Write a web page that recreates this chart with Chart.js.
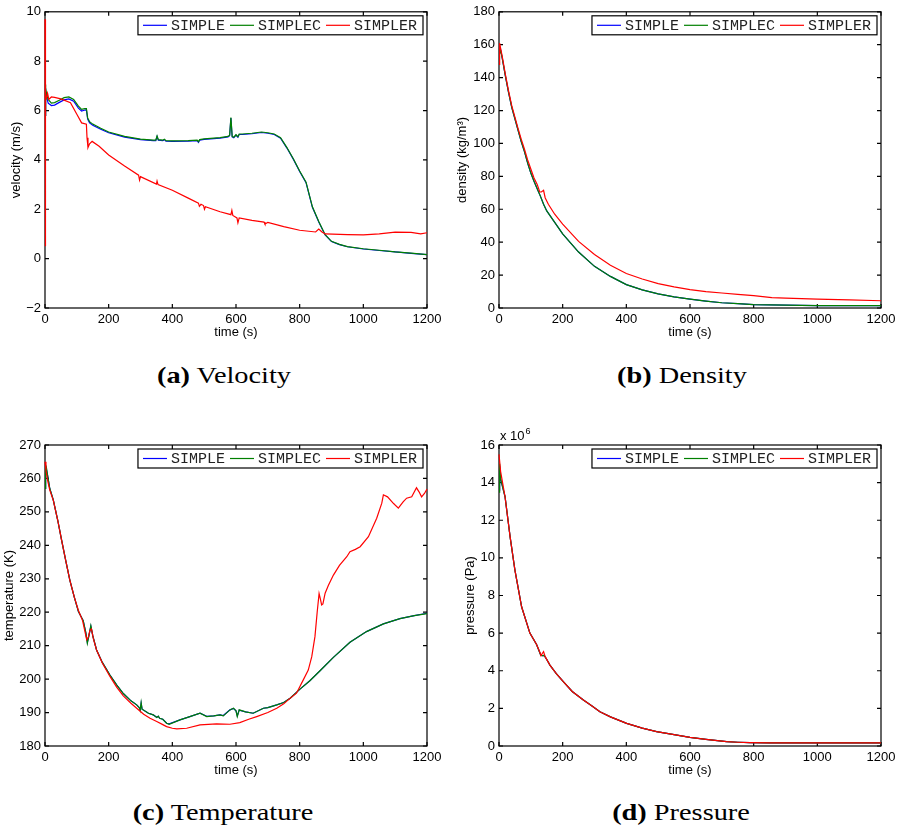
<!DOCTYPE html>
<html>
<head>
<meta charset="utf-8">
<script src="https://cdn.jsdelivr.net/npm/chart.js@4.4.0/dist/chart.umd.min.js"></script>
<style>
  body { margin: 0; background: #fff; }
  #page { position: relative; width: 899px; height: 830px; overflow: hidden; }
  canvas { position: absolute; }
  .cap { position: absolute; width: 400px; text-align: center; font-family: "Liberation Serif", serif; font-size: 24px; line-height: 26px; color: #000; transform: scaleX(1.18); }
  .cap b { font-weight: bold; }
</style>
</head>
<body>
<div id="page">
  <canvas id="cVel" width="450" height="340" style="left:0;top:0"></canvas>
  <canvas id="cDen" width="450" height="340" style="left:450px;top:0"></canvas>
  <canvas id="cTmp" width="450" height="353" style="left:0;top:425px"></canvas>
  <canvas id="cPrs" width="450" height="353" style="left:450px;top:425px"></canvas>
  <div class="cap" style="left:24px;top:362px"><b>(a)</b> Velocity</div>
  <div class="cap" style="left:482px;top:362px"><b>(b)</b> Density</div>
  <div class="cap" style="left:23px;top:799px"><b>(c)</b> Temperature</div>
  <div class="cap" style="left:481px;top:799px"><b>(d)</b> Pressure</div>
</div>
<script>
var seriesNames = ['SIMPLE', 'SIMPLEC', 'SIMPLER'];
var seriesColors = ['#0000ff', '#008000', '#ff0000'];

// velocity (m/s)
var velT = [0,1,3,6,10,20,30,45,60,75,90,105,115,125,130,134,140,150,175,200,250,300,340,348,352,356,370,375,380,400,450,478,482,486,500,550,575,580,584,588,593,600,606,610,620,650,680,700,720,740,760,780,800,820,840,860,880,900,925,950,1000,1050,1100,1150,1200];
var velSimplec = [5.8,7.05,6.9,6.6,6.45,6.3,6.32,6.42,6.52,6.55,6.45,6.18,6.05,6.08,6.08,5.7,5.55,5.45,5.28,5.13,4.95,4.84,4.8,4.8,4.97,4.82,4.8,4.84,4.78,4.77,4.78,4.8,4.74,4.82,4.85,4.9,4.95,5.0,5.72,4.95,4.92,5.02,4.94,5.05,5.05,5.08,5.13,5.1,5.05,4.9,4.5,4.05,3.55,3.1,2.1,1.5,0.97,0.7,0.58,0.49,0.4,0.34,0.27,0.22,0.16];
var velSimple = [5.8,6.9,6.75,6.5,6.3,6.2,6.22,6.33,6.43,6.47,6.38,6.1,5.98,6.02,6.03,5.65,5.5,5.4,5.24,5.1,4.92,4.82,4.78,4.78,4.95,4.8,4.78,4.82,4.76,4.75,4.76,4.78,4.71,4.8,4.83,4.88,4.93,4.98,5.7,4.93,4.9,5.0,4.92,5.03,5.03,5.06,5.11,5.08,5.03,4.88,4.48,4.03,3.53,3.08,2.08,1.48,0.96,0.69,0.57,0.48,0.39,0.33,0.27,0.21,0.16];
var velRT = [0,1,2,4,8,12,20,30,50,80,100,115,130,132,135,140,148,170,200,250,294,297,300,350,352,355,400,450,482,485,490,498,501,504,550,584,587,590,603,606,610,650,688,691,700,750,800,850,860,870,880,950,1000,1050,1100,1150,1180,1200];
var velSimpler = [9.7,0.5,6.6,6.5,6.7,6.45,6.55,6.53,6.47,6.32,5.85,5.5,5.45,4.9,4.5,4.65,4.75,4.55,4.2,3.75,3.38,3.18,3.32,3.02,3.14,3.0,2.77,2.45,2.25,2.12,2.2,2.15,2.0,2.1,1.9,1.78,1.95,1.75,1.65,1.45,1.65,1.55,1.48,1.4,1.47,1.3,1.15,1.08,1.2,1.08,1.0,0.97,0.96,1.0,1.07,1.06,1.0,1.05];

// density (kg/m3)
var denT = [0,3,5,10,20,30,40,50,60,70,80,90,100,110,120,130,140,150,175,200,250,300,350,400,450,500,550,600,650,700,750,800,900,1000,1100,1200];
var denSimple = [156,158,157,152,141,131,122,115,108,101,95,88,82,77,72.5,68,63,59,52,45,34,25.3,19.2,14.2,11,8.6,6.8,5.4,4.2,3.2,2.6,2.1,1.7,1.5,1.4,1.4];
var denSimplec = [155,157.5,156.5,152,141,131,122,115,108,101,95,88,82,77,72.5,68,63,59,52,45,34,25.3,19.2,14.2,11,8.6,6.8,5.4,4.2,3.2,2.6,2.1,1.7,1.5,1.4,1.4];
var denRT = [0,2,5,10,20,30,40,50,60,70,80,90,100,110,120,128,133,140,145,155,175,200,250,300,350,400,450,500,550,600,650,700,750,800,857,900,1000,1100,1200];
var denSimpler = [148,161,158,153,142,132,123,116,109,102.5,96.5,90,84.5,79,75,70.5,70.5,71.5,67,63,57,51,40.5,32.5,26,21,17.6,14.8,12.8,11.2,10,9.1,8.3,7.5,6.3,6,5.4,4.9,4.4];

// temperature (K)
var tmpT = [0,2,4,8,15,26,40,52,65,78,92,105,120,128,133,138,144,150,162,180,204,225,246,270,288,296,299,302,305,325,340,351,356,360,370,382,390,424,455,487,508,530,550,560,581,592,600,604,610,630,654,686,700,728,750,770,801,832,864,906,958,1010,1063,1115,1160,1200];
var tmpSimplec = [257,264,263.5,261,257,253.6,247.5,241.6,235.5,229.6,224.5,220.2,217.5,214,210.7,213,216,213,208.7,205,201.2,198.3,195.7,193.5,192.3,191.5,190.6,193,191,189.8,189.3,188.5,188.9,188.3,188,186.8,186.5,187.8,188.8,189.8,188.8,189,189.3,189,190.8,191.3,190.5,188.8,190.8,190.2,189.8,191.3,191.5,192.3,193,194.3,197,199.5,202.5,206.5,211,214.2,216.5,218.1,219,219.6];
var tmpSimple = [257,263.5,263,261,257,253.6,247.5,241.6,235.5,229.6,224.5,220.2,217.5,214,211,213,215.8,213,208.7,205,201.2,198.3,195.7,193.5,192.3,191.5,190.8,192.8,191,189.8,189.3,188.6,188.9,188.3,188,186.8,186.6,187.8,188.8,189.8,188.9,189,189.3,189.1,190.8,191.2,190.5,189,190.7,190.2,189.8,191.3,191.5,192.3,193,194.3,197,199.5,202.5,206.5,211,214.2,216.5,218.1,219,219.7];
var tmpRT = [0,3,8,15,26,40,52,65,78,92,105,118,126,131,136,141,146,152,162,180,204,225,246,270,288,310,330,351,370,382,400,414,445,487,539,581,612,640,665,700,728,750,764,790,811,827,838,848,855,861,865,869,873,880,890,906,925,948,958,975,990,1016,1042,1058,1063,1076,1095,1110,1125,1136,1152,1167,1175,1183,1192,1200];
var tmpSimpler = [265,262.5,259.5,256.5,253.5,247.5,241.6,235.5,229.6,224.5,220.5,217.5,214,211.8,212.5,214.5,215,212,208.7,204.8,200.8,197.6,195,192.8,191.3,189.5,188.3,187.3,186.4,185.8,185.3,185.1,185.3,186.3,186.6,186.5,187,188,188.8,190,191.3,192.6,193.8,195.8,199.7,202.7,206.7,212.7,220,225.6,224,222.2,222.5,225.7,228,231.1,234,236.6,238.1,238.8,239.6,242.6,248.1,252.6,255.1,254.5,252.5,251.1,253,254.1,254.5,257.2,256,254.5,255.5,256.8];

// pressure (x 10^6 Pa)
var prsT = [0,2,5,19,35,50,71,97,118,131,136,142,150,160,180,202,230,265,290,317,350,401,450,495,550,600,650,715,750,788,850,1000,1200];
var prsSimplec = [13.5,15.0,14.2,13.25,11.1,9.35,7.4,6.0,5.4,4.84,4.8,4.82,4.6,4.3,3.85,3.42,2.9,2.45,2.15,1.82,1.55,1.2,0.95,0.76,0.6,0.46,0.35,0.23,0.2,0.18,0.17,0.17,0.17];
var prsSimple = [13.6,14.9,14.2,13.25,11.1,9.35,7.4,6.0,5.4,4.84,4.8,4.82,4.6,4.3,3.85,3.42,2.9,2.45,2.15,1.82,1.55,1.2,0.95,0.76,0.6,0.46,0.35,0.23,0.2,0.18,0.17,0.17,0.17];
var prsRT = [0,5,19,35,50,71,97,118,128,132,136,140,145,160,180,202,230,265,290,317,350,401,450,495,550,600,650,715,750,788,850,1000,1200];
var prsSimpler = [15.5,14.6,13.25,11.1,9.35,7.4,6.0,5.4,5.0,4.8,4.92,5.02,4.75,4.3,3.85,3.42,2.9,2.45,2.15,1.82,1.55,1.2,0.95,0.76,0.6,0.46,0.35,0.23,0.2,0.18,0.17,0.17,0.17];

var timeTicks = { min: 0, max: 1200, step: 200 };

function series(i, xs, ys) {
  return {
    label: seriesNames[i],
    borderColor: seriesColors[i],
    backgroundColor: seriesColors[i],
    order: 2 - i,  // red on top, then green, then blue
    data: xs.map(function (x, k) { return { x: x, y: ys[k] }; })
  };
}

// plain number labels, matlab style minus sign
function plainLabel(v) {
  return String(v).replace('-', '\u2212');
}

// box + inward tick marks on all four sides, like a matlab axes
var framePlugin = {
  id: 'frame',
  beforeDatasetsDraw: function (chart, args, opts) {
    var ctx = chart.ctx, a = chart.chartArea;
    var xs = chart.scales.x, ys = chart.scales.y;
    ctx.save();
    ctx.strokeStyle = '#000';
    ctx.lineWidth = 1.2;
    ctx.strokeRect(a.left, a.top, a.right - a.left, a.bottom - a.top);
    ctx.beginPath();
    xs.ticks.forEach(function (t) {
      var p = xs.getPixelForValue(t.value);
      ctx.moveTo(p, a.bottom); ctx.lineTo(p, a.bottom - 4);
      ctx.moveTo(p, a.top); ctx.lineTo(p, a.top + 4);
    });
    ys.ticks.forEach(function (t) {
      var p = ys.getPixelForValue(t.value);
      ctx.moveTo(a.left, p); ctx.lineTo(a.left + 4, p);
      ctx.moveTo(a.right, p); ctx.lineTo(a.right - 4, p);
    });
    ctx.stroke();
    if (opts.exponent) {
      ctx.fillStyle = '#000';
      ctx.textBaseline = 'alphabetic';
      ctx.font = '13px "Liberation Sans", Arial, sans-serif';
      ctx.fillText('x 10', a.left + 1, a.top - 5);
      var w = ctx.measureText('x 10').width;
      ctx.font = '9px "Liberation Sans", Arial, sans-serif';
      ctx.fillText(opts.exponent, a.left + 1 + w + 1, a.top - 11);
    }
    ctx.restore();
  }
};

// boxed horizontal legend in the top right corner of the plot
var boxLegend = {
  id: 'boxLegend',
  afterDatasetsDraw: function (chart) {
    var ctx = chart.ctx, a = chart.chartArea;
    ctx.save();
    ctx.font = '15px "Liberation Mono", "Courier New", monospace';
    var items = chart.data.datasets.map(function (d) {
      return { label: d.label, color: d.borderColor, w: ctx.measureText(d.label).width };
    });
    var total = 5;
    items.forEach(function (it) { total += 28 + it.w + 5; });
    total += 1;
    var right = a.right - 4, top = a.top + 4, h = 19;
    var left = right - total;
    ctx.fillStyle = '#fff';
    ctx.fillRect(left, top, total, h);
    ctx.strokeStyle = '#000';
    ctx.lineWidth = 1.2;
    ctx.strokeRect(left, top, total, h);
    var x = left + 5, cy = top + h / 2;
    ctx.textBaseline = 'middle';
    items.forEach(function (it) {
      ctx.strokeStyle = it.color;
      ctx.lineWidth = 1.2;
      ctx.beginPath();
      ctx.moveTo(x, cy); ctx.lineTo(x + 24, cy);
      ctx.stroke();
      ctx.fillStyle = '#222';
      ctx.fillText(it.label, x + 28, cy + 1);
      x += 28 + it.w + 5;
    });
    ctx.restore();
  }
};

var tickFont = { family: '"Liberation Sans", Arial, sans-serif', size: 13 };

function makeChart(id, cfg) {
  return new Chart(document.getElementById(id), {
    type: 'line',
    data: { datasets: cfg.datasets },
    options: {
      responsive: false,
      animation: false,
      layout: { padding: { top: cfg.padTop, right: cfg.padRight, left: 0, bottom: 0 } },
      elements: { point: { radius: 0 }, line: { borderWidth: 1.2, tension: 0 } },
      datasets: { line: { clip: false } },
      plugins: {
        legend: { display: false },
        tooltip: { enabled: false },
        frame: { exponent: cfg.exponent }
      },
      scales: {
        x: {
          type: 'linear',
          min: timeTicks.min, max: timeTicks.max,
          afterFit: function (s) { s.height = 32; },
          grid: { display: false, drawTicks: false },
          border: { display: false },
          ticks: { stepSize: timeTicks.step, color: '#000', font: tickFont, padding: 4, maxRotation: 0, callback: plainLabel },
          title: { display: true, text: 'time (s)', color: '#000', font: tickFont, padding: 0 }
        },
        y: {
          min: cfg.yMin, max: cfg.yMax,
          afterFit: function (s) { s.width = cfg.yWidth; },
          grid: { display: false, drawTicks: false },
          border: { display: false },
          ticks: { stepSize: cfg.yStep, color: '#000', font: tickFont, padding: 4, callback: plainLabel },
          title: { display: true, text: cfg.yTitle, color: '#000', font: tickFont, padding: { top: cfg.yTitlePad, bottom: 0 } }
        }
      }
    },
    plugins: [framePlugin, boxLegend]
  });
}

makeChart('cVel', {
  datasets: [series(0, velT, velSimple), series(1, velT, velSimplec), series(2, velRT, velSimpler)],
  yMin: -2, yMax: 10, yStep: 2, yTitle: 'velocity (m/s)', yTitlePad: 9,
  yWidth: 45, padTop: 8, padRight: 23
});
makeChart('cDen', {
  datasets: [series(0, denT, denSimple), series(1, denT, denSimplec), series(2, denRT, denSimpler)],
  yMin: 0, yMax: 180, yStep: 20, yTitle: 'density (kg/m\u00b3)', yTitlePad: 5,
  yWidth: 49, padTop: 8, padRight: 19
});
makeChart('cTmp', {
  datasets: [series(0, tmpT, tmpSimple), series(1, tmpT, tmpSimplec), series(2, tmpRT, tmpSimpler)],
  yMin: 180, yMax: 270, yStep: 10, yTitle: 'temperature (K)', yTitlePad: 2,
  yWidth: 45, padTop: 20, padRight: 23
});
makeChart('cPrs', {
  datasets: [series(0, prsT, prsSimple), series(1, prsT, prsSimplec), series(2, prsRT, prsSimpler)],
  yMin: 0, yMax: 16, yStep: 2, yTitle: 'pressure (Pa)', yTitlePad: 13,
  yWidth: 49, padTop: 20, padRight: 19, exponent: '6'
});
</script>
</body>
</html>
